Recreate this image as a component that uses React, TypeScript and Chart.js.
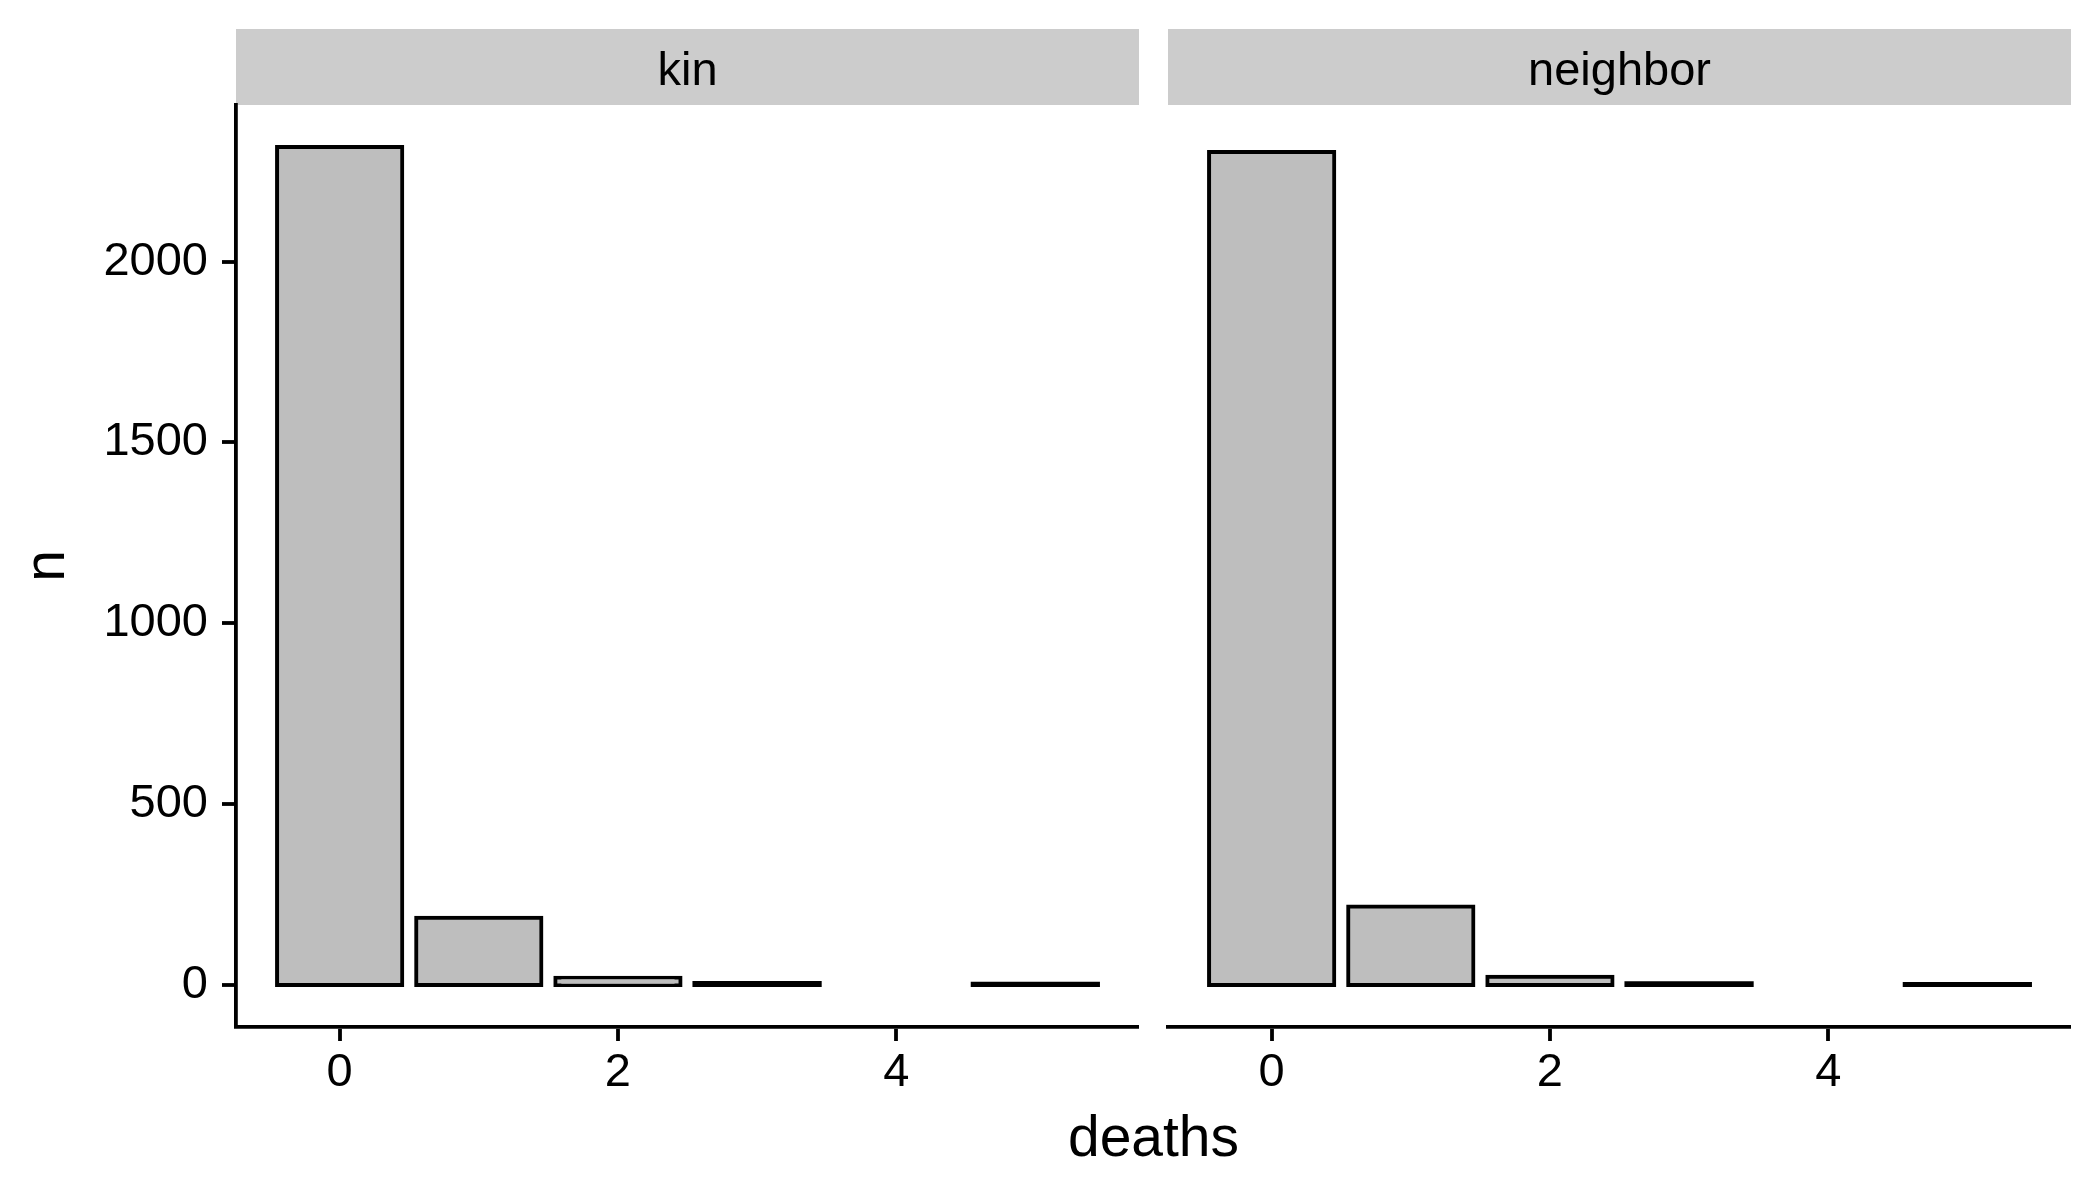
import React, { useEffect, useRef } from 'react';
import { Chart, registerables } from 'chart.js';

Chart.register(...registerables);

// ---- data ----
const deaths = [0, 1, 2, 3, 5];
const kinCounts = [2317, 186, 20, 6, 4];
const neighborCounts = [2303, 217, 23, 5, 3];
const panelNames = ['kin', 'neighbor'];
const panelSeries = [kinCounts, neighborCounts];
const xTicks = [0, 2, 4];
const yTicks = [0, 500, 1000, 1500, 2000];
const xTitle = 'deaths';
const yTitle = 'n';

// ---- layout / style ----
const W = 2100;
const H = 1200;
const FONT = "'Liberation Sans', Arial, Helvetica, sans-serif";
const LW = 3.8; // axis line width
const BW = 4; // bar outline width
const P1_LEFT = 236;
const P1_RIGHT = 1139;
const P2_LEFT = 1168;
const P2_RIGHT = 2071;
const TOP = 105;
const BOTTOM = 1027;
const STRIP_H = 76;
const TICK_FONT = 47;
const TITLE_FONT = 57;

const maxN = Math.max(...kinCounts, ...neighborCounts);
const yMin = -0.05 * maxN;
const yMax = 1.05 * maxN;
const xLo = Math.min(...deaths) - 0.45;
const xHi = Math.max(...deaths) + 0.45;
const xMin = xLo - 0.05 * (xHi - xLo);
const xMax = xHi + 0.05 * (xHi - xLo);

// pixel height of a bar, from the chart's own y scale
function barPx(c: any): number {
  const ys = c.chart && c.chart.scales ? c.chart.scales.y : null;
  if (!ys || !c.parsed) return 999;
  return Math.abs(ys.getPixelForValue(c.parsed.y) - ys.getPixelForValue(0));
}

function panelPlugin(label: string, first: boolean) {
  return {
    id: 'panel_' + label,
    beforeDraw(chart: any) {
      const { ctx, chartArea } = chart;
      ctx.save();
      ctx.fillStyle = '#CCCCCC';
      ctx.fillRect(chartArea.left, chartArea.top - STRIP_H, chartArea.right - chartArea.left, STRIP_H);
      ctx.fillStyle = '#000000';
      ctx.font = `${TICK_FONT}px ${FONT}`;
      ctx.textAlign = 'center';
      ctx.textBaseline = 'alphabetic';
      ctx.fillText(label, (chartArea.left + chartArea.right) / 2, chartArea.top - STRIP_H + 55.5);
      ctx.restore();
    },
    afterDraw(chart: any) {
      if (first) return;
      const { ctx, chartArea } = chart;
      ctx.save();
      ctx.fillStyle = '#000000';
      ctx.font = `${TITLE_FONT}px ${FONT}`;
      ctx.textAlign = 'center';
      ctx.textBaseline = 'alphabetic';
      ctx.fillText(xTitle, (P1_LEFT + chartArea.right) / 2, chartArea.bottom + 129);
      ctx.restore();
    },
  };
}

function makeConfig(panel: number): any {
  const counts = panelSeries[panel];
  const first = panel === 0;
  // only tick marks are drawn; lineWidth 0 keeps bars from being shifted off the zero line
  const gridOpts = {
    display: true,
    drawOnChartArea: false,
    drawTicks: true,
    tickLength: 14,
    color: '#000000',
    tickColor: '#000000',
    lineWidth: 0,
    tickWidth: LW,
    offset: false,
  };
  const borderOpts = { display: true, color: '#000000', width: LW };
  return {
    type: 'bar',
    data: {
      datasets: [
        {
          label: panelNames[panel],
          data: deaths.map((d, i) => ({ x: d, y: counts[i] })),
          backgroundColor: (c: any) => (barPx(c) < BW ? '#000000' : '#BEBEBE'),
          borderColor: '#000000',
          borderWidth: (c: any) => (barPx(c) < BW ? 0 : BW),
          borderSkipped: false,
          barPercentage: 0.9,
          categoryPercentage: 1,
          inflateAmount: BW / 2,
        },
      ],
    },
    options: {
      responsive: false,
      animation: false,
      events: [],
      layout: {
        padding: first
          ? { left: 0, right: W - P1_RIGHT, top: TOP, bottom: 0 }
          : { left: P2_LEFT, right: W - P2_RIGHT, top: TOP, bottom: 0 },
      },
      plugins: {
        legend: { display: false },
        tooltip: { enabled: false },
        title: { display: false },
      },
      scales: {
        x: {
          type: 'linear',
          min: xMin,
          max: xMax,
          offset: false,
          afterBuildTicks: (s: any) => {
            s.ticks = xTicks.map((v) => ({ value: v }));
          },
          afterFit: (s: any) => {
            s.height = H - BOTTOM;
          },
          grid: gridOpts,
          border: borderOpts,
          ticks: {
            color: '#000000',
            font: { family: FONT, size: TICK_FONT },
            padding: 4,
            maxRotation: 0,
            autoSkip: false,
            callback: (v: any) => String(v),
          },
        },
        y: {
          type: 'linear',
          display: first,
          min: yMin,
          max: yMax,
          afterBuildTicks: (s: any) => {
            s.ticks = yTicks.map((v) => ({ value: v }));
          },
          afterFit: (s: any) => {
            s.width = first ? P1_LEFT : 0;
          },
          grid: gridOpts,
          border: borderOpts,
          ticks: {
            color: '#000000',
            font: { family: FONT, size: TICK_FONT },
            padding: 14,
            autoSkip: false,
            callback: (v: any) => String(v),
          },
          title: {
            display: true,
            text: yTitle,
            color: '#000000',
            font: { family: FONT, size: TITLE_FONT },
            padding: { top: 14, bottom: 0 },
          },
        },
      },
    },
    plugins: [panelPlugin(panelNames[panel], first)],
  };
}

export default function App() {
  const ref1 = useRef<HTMLCanvasElement>(null);
  const ref2 = useRef<HTMLCanvasElement>(null);

  useEffect(() => {
    const c1 = new Chart(ref1.current as HTMLCanvasElement, makeConfig(0));
    const c2 = new Chart(ref2.current as HTMLCanvasElement, makeConfig(1));
    return () => {
      c1.destroy();
      c2.destroy();
    };
  }, []);

  const canvasStyle: React.CSSProperties = {
    position: 'absolute',
    left: 0,
    top: 0,
    width: W,
    height: H,
  };

  return (
    <div
      style={{
        position: 'fixed',
        left: 0,
        top: 0,
        width: W,
        height: H,
        background: '#ffffff',
        overflow: 'hidden',
      }}
    >
      <canvas ref={ref1} width={W} height={H} style={canvasStyle} />
      <canvas ref={ref2} width={W} height={H} style={canvasStyle} />
    </div>
  );
}
